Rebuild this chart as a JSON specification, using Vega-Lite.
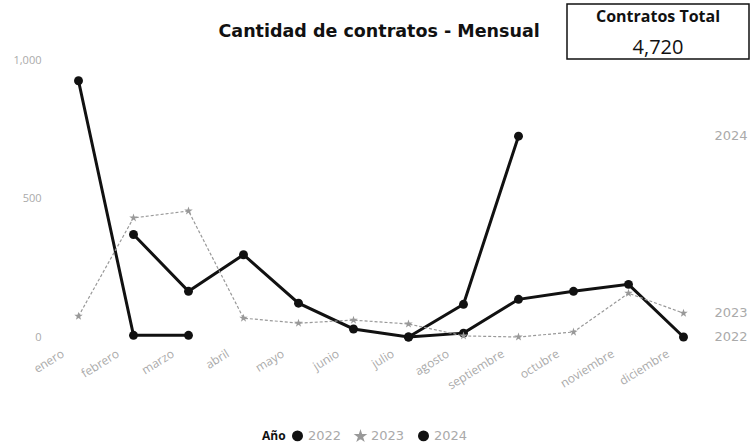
{
  "$schema": "https://vega.github.io/schema/vega-lite/v6.json",
  "padding": {"left": 12, "top": 3, "right": 5, "bottom": 3},
  "background": "white",
  "config": {"view": {"stroke": null}, "font": "Open Sans"},
  "datasets": {
    "contratos": [
      {"anio": "2022", "mes": "febrero", "n": 2, "valor": 370},
      {"anio": "2022", "mes": "marzo", "n": 3, "valor": 165},
      {"anio": "2022", "mes": "abril", "n": 4, "valor": 297},
      {"anio": "2022", "mes": "mayo", "n": 5, "valor": 122},
      {"anio": "2022", "mes": "junio", "n": 6, "valor": 29},
      {"anio": "2022", "mes": "julio", "n": 7, "valor": 0},
      {"anio": "2022", "mes": "agosto", "n": 8, "valor": 14},
      {"anio": "2022", "mes": "septiembre", "n": 9, "valor": 136},
      {"anio": "2022", "mes": "octubre", "n": 10, "valor": 165},
      {"anio": "2022", "mes": "noviembre", "n": 11, "valor": 190},
      {"anio": "2022", "mes": "diciembre", "n": 12, "valor": 0},
      {"anio": "2023", "mes": "enero", "n": 1, "valor": 75},
      {"anio": "2023", "mes": "febrero", "n": 2, "valor": 430},
      {"anio": "2023", "mes": "marzo", "n": 3, "valor": 455},
      {"anio": "2023", "mes": "abril", "n": 4, "valor": 68},
      {"anio": "2023", "mes": "mayo", "n": 5, "valor": 50},
      {"anio": "2023", "mes": "junio", "n": 6, "valor": 61},
      {"anio": "2023", "mes": "julio", "n": 7, "valor": 47},
      {"anio": "2023", "mes": "agosto", "n": 8, "valor": 4},
      {"anio": "2023", "mes": "septiembre", "n": 9, "valor": 0},
      {"anio": "2023", "mes": "octubre", "n": 10, "valor": 18},
      {"anio": "2023", "mes": "noviembre", "n": 11, "valor": 158},
      {"anio": "2023", "mes": "diciembre", "n": 12, "valor": 86},
      {"anio": "2024", "mes": "enero", "n": 1, "valor": 925},
      {"anio": "2024", "mes": "febrero", "n": 2, "valor": 6},
      {"anio": "2024", "mes": "marzo", "n": 3, "valor": 6},
      {"anio": "2024", "mes": "abril", "n": 4, "valor": null},
      {"anio": "2024", "mes": "mayo", "n": 5, "valor": null},
      {"anio": "2024", "mes": "junio", "n": 6, "valor": null},
      {"anio": "2024", "mes": "julio", "n": 7, "valor": 0},
      {"anio": "2024", "mes": "agosto", "n": 8, "valor": 118},
      {"anio": "2024", "mes": "septiembre", "n": 9, "valor": 725}
    ],
    "titulo": [{"t": "Cantidad de contratos - Mensual"}],
    "kpi": [
      {"fila": "a", "texto": "Contratos Total"},
      {"fila": "b", "texto": "4,720"}
    ]
  },
  "spacing": -15,
  "vconcat": [
    {
      "spacing": 181,
      "bounds": "flush",
      "hconcat": [
        {
          "width": 335,
          "height": 55,
          "data": {"name": "titulo"},
          "mark": {"type": "text", "align": "left", "baseline": "middle", "fontWeight": "bold", "fontSize": 17.5, "font": "DejaVu Sans", "color": "#111"},
          "encoding": {"text": {"field": "t", "type": "nominal"}}
        },
        {
          "width": 182,
          "height": 55,
          "view": {"stroke": "#111", "strokeWidth": 1.5},
          "data": {"name": "kpi"},
          "encoding": {
            "y": {"field": "fila", "type": "nominal", "axis": null, "scale": {"type": "point", "padding": 0.387, "align": 0.542, "domain": ["a", "b"]}},
            "text": {"field": "texto", "type": "nominal"}
          },
          "layer": [
            {
              "transform": [{"filter": "datum.fila == 'a'"}],
              "mark": {"type": "text", "baseline": "middle", "fontWeight": "bold", "fontSize": 16, "color": "#111"}
            },
            {
              "transform": [{"filter": "datum.fila == 'b'"}],
              "mark": {"type": "text", "baseline": "middle", "fontSize": 20, "color": "#111"}
            }
          ]
        }
      ]
    },
    {
      "width": 660,
      "height": 277,
      "data": {"name": "contratos"},
      "encoding": {
        "x": {
          "field": "mes",
          "type": "ordinal",
          "sort": ["enero", "febrero", "marzo", "abril", "mayo", "junio", "julio", "agosto", "septiembre", "octubre", "noviembre", "diciembre"],
          "scale": {"type": "point", "padding": 0.5},
          "axis": {"title": null, "labelAngle": -32, "labelAlign": "right", "labelBaseline": "middle", "labelColor": "#aaa", "labelFontSize": 12, "ticks": false, "domain": false, "labelPadding": 15, "labelOffset": -16}
        },
        "y": {
          "field": "valor",
          "type": "quantitative",
          "scale": {"domain": [0, 1000], "nice": false},
          "axis": {"title": null, "values": [0, 500, 1000], "format": ",d", "grid": false, "ticks": false, "domain": false, "labelColor": "#aaa", "labelFontSize": 11, "labelPadding": 10}
        }
      },
      "layer": [
        {
          "transform": [{"filter": "datum.anio != '2023'"}],
          "mark": {"type": "line", "strokeWidth": 3},
          "encoding": {
            "color": {"field": "anio", "type": "nominal", "title": "Año", "scale": {"domain": ["2022", "2023", "2024"], "range": ["#111111", "#999999", "#111111"]}}
          }
        },
        {
          "transform": [{"filter": "datum.anio == '2023'"}],
          "mark": {"type": "line", "strokeWidth": 1.2, "strokeDash": [3, 2]},
          "encoding": {
            "color": {"field": "anio", "type": "nominal", "title": "Año"}
          }
        },
        {
          "mark": {"type": "point", "filled": true, "opacity": 1, "size": 80},
          "encoding": {
            "color": {
              "field": "anio", "type": "nominal", "title": "Año",
              "legend": {"orient": "none", "legendX": 211, "legendY": 425, "direction": "horizontal", "titleOrient": "left", "titleFontWeight": "bold", "titleFontSize": 12, "titleColor": "#111", "labelColor": "#aaa", "labelFontSize": 13, "labelFont": "DejaVu Sans", "symbolSize": 90}
            },
            "shape": {
              "field": "anio", "type": "nominal", "title": "Año",
              "scale": {"domain": ["2022", "2023", "2024"], "range": ["circle", "M0,-1L0.2245,-0.309L0.951,-0.309L0.363,0.118L0.588,0.809L0,0.382L-0.588,0.809L-0.363,0.118L-0.951,-0.309L-0.2245,-0.309Z", "circle"]}
            }
          }
        },
        {
          "transform": [
            {"filter": "isValid(datum.valor)"},
            {"joinaggregate": [{"op": "max", "field": "n", "as": "ultimo"}], "groupby": ["anio"]},
            {"filter": "datum.n == datum.ultimo"}
          ],
          "mark": {"type": "text", "align": "left", "baseline": "middle", "dx": 31, "fontSize": 13, "font": "DejaVu Sans", "color": "#aaa"},
          "encoding": {
            "x": {"datum": "diciembre"},
            "text": {"field": "anio", "type": "nominal"}
          }
        }
      ]
    }
  ]
}
